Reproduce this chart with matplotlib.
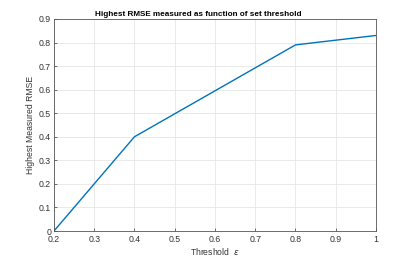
import matplotlib
matplotlib.use("Agg")
import matplotlib.pyplot as plt

# Data
thresholds = [0.2, 0.4, 0.8, 1.0]
highest_rmse = [0.0, 0.4, 0.79, 0.83]
xticks = [0.2, 0.3, 0.4, 0.5, 0.6, 0.7, 0.8, 0.9, 1.0]
xtick_labels = ["0.2", "0.3", "0.4", "0.5", "0.6", "0.7", "0.8", "0.9", "1"]
yticks = [0, 0.1, 0.2, 0.3, 0.4, 0.5, 0.6, 0.7, 0.8, 0.9]
ytick_labels = ["0", "0.1", "0.2", "0.3", "0.4", "0.5", "0.6", "0.7", "0.8", "0.9"]

plt.rcParams["font.family"] = ["Liberation Sans", "DejaVu Sans"]

fig = plt.figure(figsize=(4.15, 2.6), dpi=100)
ax = fig.add_axes([0.13, 0.1115, 0.776, 0.8155])

ax.plot(thresholds, highest_rmse, color="#0072BD", linewidth=1.0)

ax.set_xlim(0.2, 1.0)
ax.set_ylim(0, 0.9)
ax.set_xticks(xticks)
ax.set_xticklabels(xtick_labels)
ax.set_yticks(yticks)
ax.set_yticklabels(ytick_labels)

# MATLAB-like look
axis_col = "#333333"
ax.grid(True, color="#e6e6e6", linewidth=0.6)
ax.set_axisbelow(True)
for sp in ax.spines.values():
    sp.set_color("#555555")
    sp.set_linewidth(0.6)
ax.tick_params(direction="in", length=2.5, width=0.6, colors="#555555",
               labelcolor=axis_col, labelsize=6.3)
ax.tick_params(axis="x", pad=3)
ax.tick_params(axis="y", pad=2)

ax.set_title("Highest RMSE measured as function of set threshold",
             fontsize=5.9, fontweight="bold", color="black", pad=2.5, x=0.447)
ax.set_xlabel(r"Threshold  $\epsilon$", fontsize=6.2, color=axis_col, labelpad=1)
ax.set_ylabel("Highest Measured RMSE", fontsize=6.2, color=axis_col, labelpad=3)

fig.savefig("out.png", dpi=100)
